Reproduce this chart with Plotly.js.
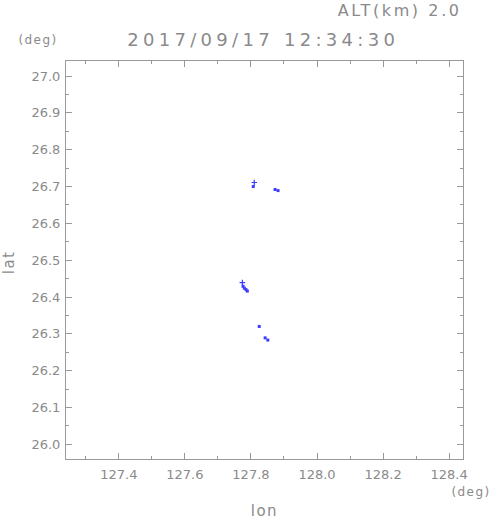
<!DOCTYPE html>
<html>
<head>
<meta charset="utf-8">
<script src="https://cdn.plot.ly/plotly-3.0.1.min.js"></script>
<style>html,body{margin:0;padding:0;background:#fff;}#chart{width:491px;height:521px;}</style>
</head>
<body>
<div id="chart"></div>
<script>
// Observation points (lon, lat in degrees)
const lonSquare = [127.807, 127.873, 127.882, 127.776, 127.780, 127.785, 127.789, 127.825, 127.843, 127.851];
const latSquare = [26.700, 26.692, 26.689, 26.429, 26.424, 26.420, 26.416, 26.320, 26.289, 26.283];
const lonCross = [127.810, 127.774];
const latCross = [26.711, 26.439];

const xTickVals = [127.4, 127.6, 127.8, 128.0, 128.2, 128.4];
const xTickText = ["127.4", "127.6", "127.8", "128.0", "128.2", "128.4"];
const yTickVals = [26.0, 26.1, 26.2, 26.3, 26.4, 26.5, 26.6, 26.7, 26.8, 26.9, 27.0];
const yTickText = ["26.0", "26.1", "26.2", "26.3", "26.4", "26.5", "26.6", "26.7", "26.8", "26.9", "27.0"];

const titleText = "2017/09/17 12:34:30";
const altText = "ALT(km) 2.0";
const unitText = "(deg)";
const xLabel = "lon";
const yLabel = "lat";

const FONT = "DejaVu Sans, Liberation Sans, sans-serif";
const TXT = "#8a8a8a";
const LINE = "#9a9a9a";
const MARK = "#3c3cff";

const traces = [
  {x: lonSquare, y: latSquare, type: "scatter", mode: "markers",
   marker: {symbol: "square", size: 3, color: MARK, line: {width: 0}}, hoverinfo: "x+y"},
  {x: lonCross, y: latCross, type: "scatter", mode: "markers",
   marker: {symbol: "cross-thin", size: 4, color: MARK, line: {width: 1.2, color: MARK}}, hoverinfo: "x+y"}
];

const axisCommon = {
  showgrid: false, zeroline: false, showline: true, linecolor: LINE, linewidth: 1,
  mirror: "ticks", ticks: "inside", ticklen: 6, tickwidth: 1, tickcolor: LINE,
  tickfont: {family: FONT, size: 13, color: TXT},
  tickmode: "array"
};

const layout = {
  width: 491, height: 521,
  margin: {l: 66, r: 28, t: 61, b: 62},
  paper_bgcolor: "#fff", plot_bgcolor: "#fff",
  showlegend: false,
  xaxis: Object.assign({}, axisCommon, {
    range: [127.24, 128.442], tickvals: xTickVals, ticktext: xTickText,
    minor: {dtick: 0.1, tick0: 127.3, ticks: "inside", ticklen: 3, tickcolor: LINE, showgrid: false},
    ticklabelstandoff: 3
  }),
  yaxis: Object.assign({}, axisCommon, {
    range: [25.96, 27.041], tickvals: yTickVals, ticktext: yTickText,
    minor: {dtick: 0.05, tick0: 26.05, ticks: "inside", ticklen: 3, tickcolor: LINE, showgrid: false},
    ticklabelstandoff: 2
  }),
  annotations: [
    {text: titleText, xref: "paper", yref: "paper", x: 0.495, y: 1, yshift: 22, xanchor: "center", yanchor: "middle",
     showarrow: false, font: {family: FONT, size: 18, color: TXT}},
    {text: altText, xref: "paper", yref: "paper", x: 0.841, y: 1, yshift: 51, xanchor: "center", yanchor: "middle",
     showarrow: false, font: {family: FONT, size: 16, color: TXT}},
    {text: unitText, xref: "paper", yref: "paper", x: 0, y: 1, xshift: -28, yshift: 21.5, xanchor: "center", yanchor: "middle",
     showarrow: false, font: {family: FONT, size: 12, color: TXT}},
    {text: unitText, xref: "paper", yref: "paper", x: 1.02, y: 0, yshift: -33, xanchor: "center", yanchor: "middle",
     showarrow: false, font: {family: FONT, size: 12, color: TXT}},
    {text: xLabel, xref: "paper", yref: "paper", x: 0.501, y: 0, yshift: -52, xanchor: "center", yanchor: "middle",
     showarrow: false, font: {family: FONT, size: 15, color: TXT}},
    {text: yLabel, xref: "paper", yref: "paper", x: 0, y: 0.4925, xshift: -57, xanchor: "center", yanchor: "middle",
     textangle: -90, showarrow: false, font: {family: FONT, size: 15, color: TXT}}
  ]
};

const spacing = ["4.3px", "2.6px", "1.4px", "1.4px", "1.5px", "1.5px"];

Plotly.newPlot("chart", traces, layout, {staticPlot: true, displayModeBar: false}).then(function (gd) {
  gd.querySelectorAll("g.annotation").forEach(function (g) {
    const i = parseInt(g.getAttribute("data-index"), 10);
    const t = g.querySelector("text.annotation-text");
    if (t && spacing[i]) t.style.letterSpacing = spacing[i];
  });
});
</script>
</body>
</html>
